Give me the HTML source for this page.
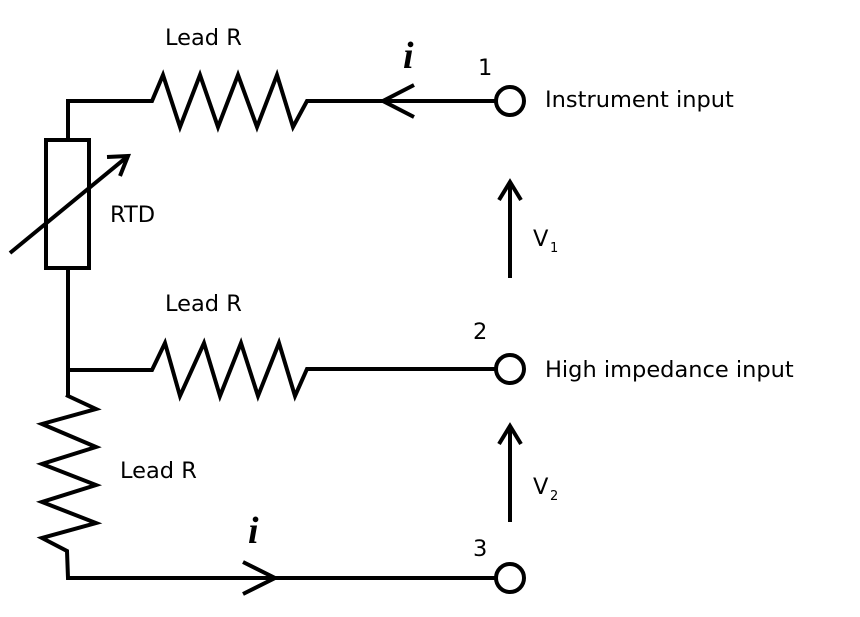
<!DOCTYPE html>
<html><head><style>body{margin:0;background:#fff}svg{display:block}text{font-family:"DejaVu Sans","Liberation Sans",sans-serif;font-size:22.5px;fill:#000}</style></head>
<body>
<svg width="860" height="617" viewBox="0 0 860 617" xmlns="http://www.w3.org/2000/svg">
<g fill="none" stroke="#000" stroke-width="4" stroke-linejoin="miter">
<polyline points="68,140 68,101 152,101 163,75 180,127 200,75 218,127 238,75 257,127 277,75 293,127 307,101 496,101"/>
<polyline points="414,85 383,101 414,117"/>
<rect x="46" y="140" width="43" height="128"/>
<line x1="10" y1="253" x2="128" y2="156"/>
<polyline points="107,157 128,156 120,176"/>
<polyline points="68,268 68,395"/>
<polyline points="68,370 152,370 165,343 180,396 204,343 220,396 241,343 258,396 279,343 295,396 307,369 496,369"/>
<polyline points="66,395 96,409 42,424 96,447 42,464 96,485 42,502 96,523 42,538 67,551 68,578 496,578"/>
<polyline points="243,562 275,578 243,594"/>
<circle cx="510" cy="101" r="14"/>
<circle cx="510" cy="369" r="14"/>
<circle cx="510" cy="578" r="14"/>
<line x1="510" y1="278" x2="510" y2="182"/>
<polyline points="499,200 510,182 521,200"/>
<line x1="510" y1="522" x2="510" y2="426"/>
<polyline points="499,444 510,426 521,444"/>
</g>
<text x="165" y="45">Lead R</text>
<text x="165" y="311">Lead R</text>
<text x="120" y="478">Lead R</text>
<text x="110" y="222">RTD</text>
<text x="478" y="75">1</text>
<text x="473" y="339">2</text>
<text x="473" y="556">3</text>
<text x="545" y="107">Instrument input</text>
<text x="545" y="377">High impedance input</text>
<text x="533" y="246">V</text><text x="550" y="252" style="font-size:13px">1</text>
<text x="533" y="494">V</text><text x="550" y="500" style="font-size:13px">2</text>
<text x="403" y="68" style="font-family:'Liberation Serif',serif;font-style:italic;font-weight:bold;font-size:38px">i</text>
<text x="248" y="543" style="font-family:'Liberation Serif',serif;font-style:italic;font-weight:bold;font-size:38px">i</text>
</svg>
</body></html>
